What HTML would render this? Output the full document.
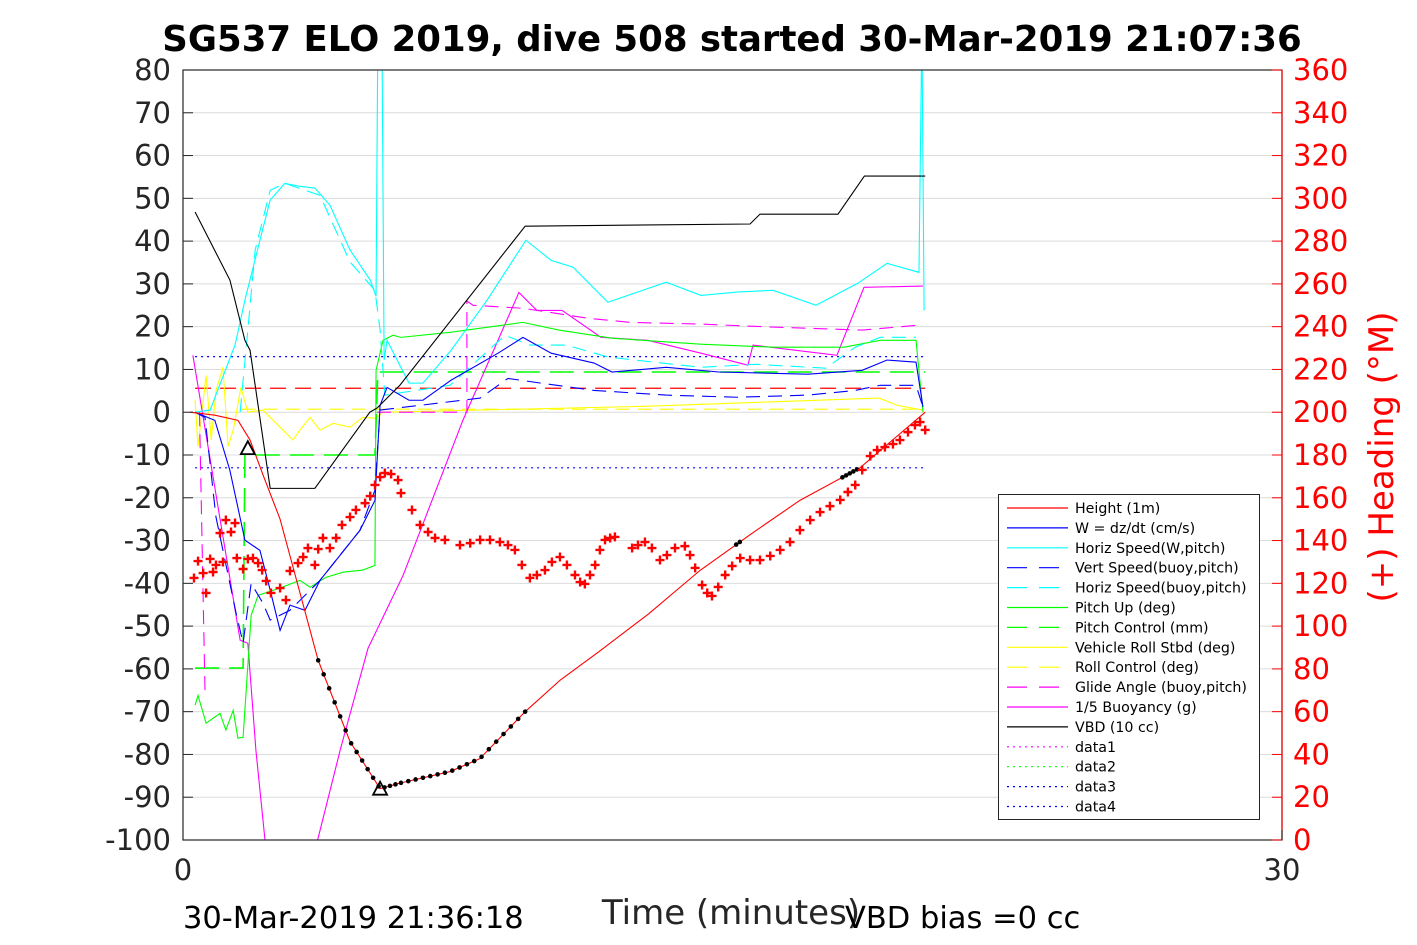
<!DOCTYPE html>
<html><head><meta charset="utf-8"><style>
html,body{margin:0;padding:0;background:#fff;}
svg{display:block;font-family:"DejaVu Sans","Liberation Sans",sans-serif;}
</style></head><body>
<svg id="chart" width="1417" height="945" xmlns="http://www.w3.org/2000/svg">
<defs><clipPath id="pc"><rect x="183" y="70" width="1099" height="770"/></clipPath></defs>
<rect x="0" y="0" width="1417" height="945" fill="#fff"/>
<g id="grid"></g>
<g id="series" clip-path="url(#pc)"></g>
<g id="axes"></g>
<text x="732" y="51" text-anchor="middle" font-size="35.5" font-weight="bold">SG537 ELO 2019, dive 508 started 30-Mar-2019 21:07:36</text>
<text x="731" y="924" text-anchor="middle" font-size="34" fill="#262626">Time (minutes)</text>
<text x="183" y="928" font-size="30.5">30-Mar-2019 21:36:18</text>
<text x="845" y="928" font-size="30.5">VBD bias =0 cc</text>
<text transform="translate(1393,457) rotate(-90)" text-anchor="middle" font-size="34" fill="#ff0000">(+) Heading (°M)</text>
<g id="legend"></g>
</svg>
<script>
// ---- data (time in minutes, values in left-axis units; heading in degrees) ----
const heightT=[0.19,0.87,1.5,1.83,2.2,2.65,3.69,4.56,5.38,5.92,7.29,8.1,9.34,10.3,11.38,12.7,14.11,15.5,16.84,18.48,20.26];
const heightV=[0,-0.7,-1.9,-6.5,-15,-25,-58,-77,-88,-86.7,-84,-81,-70,-62.6,-55.8,-47.2,-37,-28.5,-20.6,-13,0];
const vbdT=[0.33,1.28,1.69,1.83,2.38,3.6,5.1,5.3,5.92,9.34,15.48,15.75,17.88,18.6,20.26];
const vbdV=[46.8,30.9,16.8,14.5,-17.8,-17.8,0,1,6.3,43.5,44,46.3,46.3,55.2,55.2];
const wT=[0.33,0.87,1.28,1.69,2.10,2.38,2.65,2.92,3.33,3.74,4.29,4.83,5.24,5.38,5.57,6.17,6.55,7.32,8.60,9.28,10.05,11.22,11.71,13.19,14.63,17.06,18.54,19.22,20.01,20.20];
const wV=[0,-1.9,-13.6,-29.9,-32.3,-41.6,-51,-45.1,-46.3,-39.3,-33.4,-27.6,-20.6,1.6,5.8,2.8,2.8,7.5,13.8,17.5,13.8,11.5,9.4,10.5,9.4,8.9,9.8,12.2,11.7,1.2];
const hspdT=[0.33,0.74,1.42,1.69,2.10,2.38,2.78,3.19,3.60,4.01,4.56,5.11,5.27,5.32,5.43,5.49,5.57,6.17,6.55,7.32,8.30,9.36,10.05,10.65,11.60,13.19,14.14,15.12,16.11,17.28,18.43,19.22,20.09,20.17,20.23];
const hspdV=[0,0.5,15.7,26.2,40.2,49.6,53.5,52.8,52.4,48.4,37.9,30.9,27.1,90,90,12.2,16.8,6.8,6.8,14.5,26.2,40.2,35.5,33.9,25.7,30.4,27.3,28.1,28.5,25,30.2,34.8,32.7,90,23.8];
const hbuoyT=[1.56,1.77,1.97,2.38,2.78,3.74,4.56,5.24,5.38,5.51,7.29,8.79,9.47,10.46,11.6,14.14,15.62,17.55,18.35,19.03,20.01];
const hbuoyV=[0,19.2,37.9,51.9,53.5,50.7,35.1,28.5,19.2,4,6.3,18,15.7,15.7,12.9,10.5,11.2,10.3,15.2,17.5,17.5];
const vbuoyT=[0.33,0.6,0.9,1.45,1.64,1.86,2.18,2.38,2.92,3.74,4.83,5.24,5.38,8.11,8.87,9.77,11.22,13.19,15.12,17.06,18.35,19.03,20.01,20.2];
const vbuoyV=[0,-1.2,-24.5,-47,-54,-40,-44.6,-48.6,-46.3,-39.3,-27.6,-18.2,0.5,3.3,7.9,6.8,5.1,4,3.5,4,5.1,6.3,6.3,1.2];
const pitchT=[0.33,0.41,0.63,1.01,1.17,1.37,1.5,1.64,1.86,2.05,2.65,3.19,3.47,3.9,4.37,4.91,5.24,5.27,5.46,5.73,5.95,7.32,9.28,10.26,11.71,14.14,16.11,18.05,19.03,20.01,20.2];
const pitchV=[-68.5,-66.2,-72.7,-70.4,-74.3,-69.7,-76.2,-76,-47.5,-42.8,-41.1,-39.3,-40.9,-38.6,-37.4,-36.9,-35.8,9.8,16.8,18,17.5,18.7,21,19.2,17.3,15.9,15.2,15.2,16.8,16.8,0];
const pctlT=[0.33,1.64,1.69,5.24,5.32,20.26];
const pctlV=[-59.8,-59.8,-10,-10,9.4,9.4];
const rollT=[0.33,0.41,0.63,0.77,0.9,1.09,1.23,1.37,1.58,1.77,2.18,2.65,3.0,3.19,3.47,3.74,4.1,4.56,4.91,5.27,5.46,12.7,19.0,19.5,20.2];
const rollV=[2.8,-8,8.6,-6.5,5,10.5,-8,-4.2,5.8,0,0.5,-3.5,-6.5,-4.2,-1.2,-4.2,-2.6,-3.5,-1.2,-1.4,0,1.4,3.3,1.6,0.5];
const rollCtlT=[1.6,20.2];
const rollCtlV=[0.7,0.7];
const glideT1=[0.45,0.6];
const glideV1=[0,-65];
const glideT2=[5.3,7.75,7.75,7.92,9.28,11.03,12.2,14.14,16.11,18.54,20.01];
const glideV2=[0,0,26,25,24.3,22,21,20.6,19.9,19.2,20.3];
const buoyT=[0.27,1.56,1.77,1.99,2.38,3.47,4.29,5.05,6.01,7.64,9.17,9.66,10.35,11.41,12.69,14.14,15.42,15.56,17.85,18.59,20.2];
const buoyV=[13.3,-53.3,-54,-79,-112,-107,-79,-55.2,-38.1,-1.9,28,23.8,23.8,17.5,16.8,13.8,11,15.7,13.3,29.2,29.5];
const headT=[0.30,0.41,0.55,0.63,0.74,0.82,0.90,1.01,1.09,1.17,1.31,1.42,1.47,1.64,1.77,1.91,2.05,2.16,2.27,2.40,2.65,2.81,2.92,3.14,3.28,3.41,3.60,3.69,3.82,4.01,4.18,4.34,4.56,4.72,4.97,5.11,5.24,5.38,5.51,5.68,5.87,5.95,6.25,6.47,6.69,6.88,7.15,7.56,7.84,8.11,8.38,8.65,8.87,9.06,9.25,9.47,9.66,9.88,10.07,10.29,10.48,10.70,10.84,10.97,11.11,11.25,11.38,11.52,11.66,11.79,12.26,12.42,12.61,12.80,13.02,13.21,13.43,13.70,13.84,13.98,14.17,14.31,14.44,14.61,14.80,14.99,15.21,15.48,15.75,16.03,16.30,16.57,16.84,17.12,17.39,17.66,17.94,18.15,18.35,18.54,18.76,18.95,19.16,19.38,19.57,19.79,19.98,20.12,20.26];
const headD=[122.5,130.4,124.8,115.5,131.4,125.3,128.6,143.5,130.0,149.6,144.0,148.2,131.8,126.7,131.4,131.8,129.5,126.2,121.1,115.5,117.8,112.2,125.8,129.5,132.3,136.5,128.6,136.0,141.2,136.5,141.2,147.3,151.0,154.3,157.5,160.8,166.0,169.7,171.6,171.1,168.3,162.2,154.3,147.3,144.0,141.2,140.3,137.9,138.8,140.3,140.3,139.3,137.9,135.6,128.6,122.5,123.9,126.2,130.0,132.3,128.6,123.9,120.6,119.7,123.9,128.6,135.6,140.3,141.2,141.7,136.5,137.9,139.3,136.5,130.9,133.2,136.5,137.4,133.2,127.2,119.2,115.5,114.1,118.3,123.9,128.1,131.8,130.9,130.9,132.8,135.6,139.3,144.9,149.6,153.3,156.1,159.0,162.7,166.0,173.0,179.5,182.3,183.7,185.1,187.0,190.7,194.0,195.4,191.7];
const dotT1=[3.69,3.84,3.99,4.14,4.29,4.44,4.59,4.74,4.89,5.04,5.19,5.34,5.5,5.65,5.8,5.95,6.15,6.35,6.55,6.75,6.95,7.15,7.35,7.55,7.75,7.95,8.15,8.35,8.55,8.75,8.95,9.15,9.34];
const dotT2=[15.1,15.2,18.0,18.1,18.2,18.3,18.4];
const triT=[1.77,5.38];
const triV=[-8.4,-88];
const leftTicks=[80,70,60,50,40,30,20,10,0,-10,-20,-30,-40,-50,-60,-70,-80,-90,-100];
const rightTicks=[360,340,320,300,280,260,240,220,200,180,160,140,120,100,80,60,40,20,0];
const xTicks=[0,30];

// ---- axis functions ----
const X0=183,X1=1282,Y0=70,Y1=840;
const xs=t=>X0+(t-0)/(30-0)*(X1-X0);
const ys=v=>Y1-(v-(-100))/(80-(-100))*(Y1-Y0);
const yr=d=>Y1-(d-0)/360*(Y1-Y0);
const NS="http://www.w3.org/2000/svg";
function mk(tag,attrs,parent){const e=document.createElementNS(NS,tag);for(const k in attrs)e.setAttribute(k,attrs[k]);parent.appendChild(e);return e;}
const gGrid=document.getElementById('grid'),gS=document.getElementById('series'),gA=document.getElementById('axes'),gL=document.getElementById('legend');

leftTicks.forEach(v=>{
  const l=mk('line',{x1:X0,x2:X1,y1:ys(v),y2:ys(v),stroke:'#dcdcdc','stroke-width':1},gGrid);
  
  
});
function line(T,V,color,dash,name,w){
  const p=mk('polyline',{points:T.map((t,i)=>xs(t)+','+ys(V[i])).join(' '),fill:'none',stroke:color,'stroke-width':w||1.1,'stroke-dasharray':dash||'none'},gS);
  
  
}
function hline(v,color,dash,name){const l=mk('line',{x1:xs(0.33),x2:xs(20.26),y1:ys(v),y2:ys(v),stroke:color,'stroke-width':1.2,'stroke-dasharray':dash},gS);
  
  }
hline(13,'#0000ff','2 4','ref-line-plus13');
hline(-13,'#0000ff','2 4','ref-line-minus13');
hline(5.6,'#ff0000','16 9','ref-line-red');
line(rollCtlT,rollCtlV,'#ffff00','14 8','roll-control-line');
line(rollT,rollV,'#ffff00','','vehicle-roll-line');
line(pctlT,pctlV,'#00ff00','24 10','pitch-control-line',1.6);
line(glideT1,glideV1,'#ff00ff','14 8','glide-angle-line-a');
line(glideT2,glideV2,'#ff00ff','14 8','glide-angle-line-b');
line(buoyT,buoyV,'#ff00ff','','buoyancy-line');
line(pitchT,pitchV,'#00ff00','','pitch-up-line');
line(hbuoyT,hbuoyV,'#00ffff','14 8','horiz-speed-buoy-line');
line(vbuoyT,vbuoyV,'#0000ff','14 8','vert-speed-buoy-line');
line(hspdT,hspdV,'#00ffff','','horiz-speed-line');
line(wT,wV,'#0000ff','','w-line');
line(vbdT,vbdV,'#000000','','vbd-line');
line(heightT,heightV,'#ff0000','','height-line');
function interp(T,V,t){for(let i=1;i<T.length;i++){if(t<=T[i]){const f=(t-T[i-1])/(T[i]-T[i-1]);return V[i-1]+f*(V[i]-V[i-1]);}}return V[V.length-1];}
dotT1.concat(dotT2).forEach(t=>{const c=mk('circle',{cx:xs(t),cy:ys(interp(heightT,heightV,t)),r:2.3,fill:'#000'},gS);
  
  });
headT.forEach((t,i)=>{const x=xs(t),y=yr(headD[i]);
  const p=mk('path',{d:`M${x-4.5},${y}H${x+4.5}M${x},${y-4.5}V${y+4.5}`,stroke:'#ff0000','stroke-width':2.4},gS);
  
  });
triT.forEach((t,i)=>{const x=xs(t),y=ys(triV[i]);
  const p=mk('path',{d:`M${x},${y-7}L${x+7},${y+6}L${x-7},${y+6}Z`,fill:'none',stroke:'#000','stroke-width':1.8},gS);
  
  });

const fr=mk('rect',{x:X0,y:Y0,width:X1-X0,height:Y1-Y0,fill:'none',stroke:'#262626','stroke-width':1.2},gA);


leftTicks.forEach(v=>{const y=ys(v);
  mk('line',{x1:X0,x2:X0+10,y1:y,y2:y,stroke:'#262626'},gA);
  const t=mk('text',{x:X0-12,y:y+10,'text-anchor':'end','font-size':29,fill:'#262626'},gA);t.textContent=v;
  
  });
rightTicks.forEach(d=>{const y=yr(d);
  mk('line',{x1:X1-10,x2:X1,y1:y,y2:y,stroke:'#ff0000'},gA);
  const t=mk('text',{x:X1+11,y:y+10,'font-size':29,fill:'#ff0000'},gA);t.textContent=d;
  
  });
mk('line',{x1:X1,x2:X1,y1:Y0,y2:Y1,stroke:'#ff0000','stroke-width':1.2},gA);
xTicks.forEach(v=>{const x=xs(v);
  mk('line',{x1:x,x2:x,y1:Y1,y2:Y1-10,stroke:'#262626'},gA);
  const t=mk('text',{x:x,y:880,'text-anchor':'middle','font-size':29,fill:'#262626'},gA);t.textContent=v;
  
  });

const legNames=['Height (1m)','W = dz/dt (cm/s)','Horiz Speed(W,pitch)','Vert Speed(buoy,pitch)','Horiz Speed(buoy,pitch)','Pitch Up (deg)','Pitch Control (mm)','Vehicle Roll Stbd (deg)','Roll Control (deg)','Glide Angle (buoy,pitch)','1/5 Buoyancy (g)','VBD (10 cc)','data1','data2','data3','data4'];
const legColors=['#ff0000','#0000ff','#00ffff','#0000ff','#00ffff','#00ff00','#00ff00','#ffff00','#ffff00','#ff00ff','#ff00ff','#000000','#ff00ff','#00ff00','#0000ff','#0000ff'];
const legDash=['','','','20 12','20 12','','20 12','','20 12','20 12','','','2 4','2 4','2 4','2 4'];
const lb=mk('rect',{x:998.5,y:494.5,width:261,height:325,fill:'#fff',stroke:'#262626','stroke-width':1},gL);


legNames.forEach((n,i)=>{const y=508+i*19.9;
  mk('line',{x1:1007,x2:1068,y1:y,y2:y,stroke:legColors[i],'stroke-width':1.2,'stroke-dasharray':legDash[i]||'none'},gL);
  const t=mk('text',{x:1075,y:y+5,'font-size':14.2,fill:'#000'},gL);t.textContent=n;
  
  });
</script>
</body></html>
